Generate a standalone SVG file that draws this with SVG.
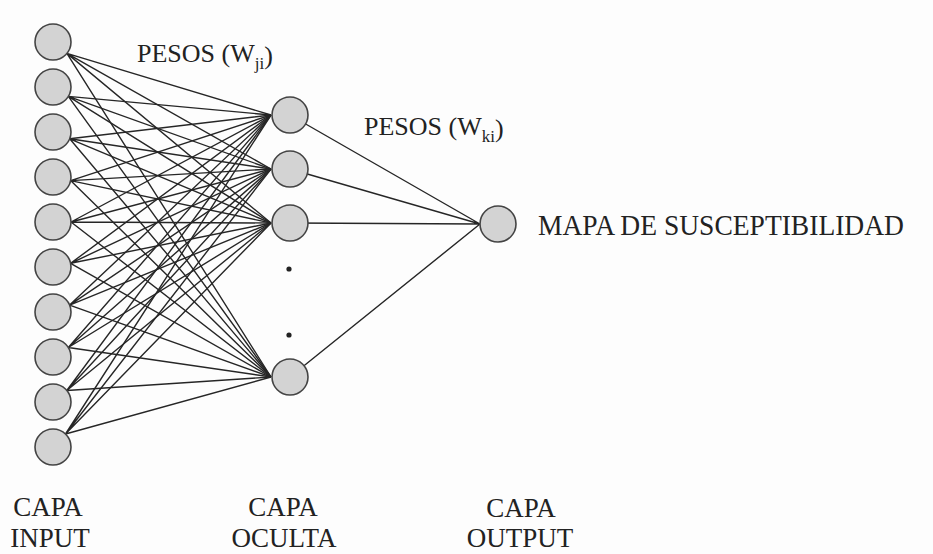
<svg xmlns="http://www.w3.org/2000/svg" width="933" height="554" viewBox="0 0 933 554">
<style>
.bg{fill:#fdfdfd}
.node{fill:#d3d3d3;stroke:#444;stroke-width:1.6}
.edge{stroke:#262626;stroke-width:1.4;fill:none}
.dot{fill:#222}
.t{font-family:"Liberation Serif","Times New Roman",serif;fill:#222}
.w{font-size:26px}
.sub{font-size:17px}
.big{font-size:29px}
.cap{font-size:27px;text-anchor:middle}
</style>
<rect class="bg" x="0" y="0" width="933" height="554"/>
<g id="connectors">
<g id="input-hidden">
<path class="edge" d="M66.9 53.4L271 115M66.9 53.4L271 169M66.9 53.4L271 223M66.9 53.4L271 377"/>
<path class="edge" d="M68.3 96.4L271 115M68.3 96.4L271 169M68.3 96.4L271 223M68.3 96.4L271 377"/>
<path class="edge" d="M69.7 138.8L271 115M69.7 138.8L271 169M69.7 138.8L271 223M69.7 138.8L271 377"/>
<path class="edge" d="M70.6 180.6L271 115M70.6 180.6L271 169M70.6 180.6L271 223M70.6 180.6L271 377"/>
<path class="edge" d="M71 222L271 115M71 222L271 169M71 222L271 223M71 222L271 377"/>
<path class="edge" d="M70.6 263.3L271 115M70.6 263.3L271 169M70.6 263.3L271 223M70.6 263.3L271 377"/>
<path class="edge" d="M69.6 305.1L271 115M69.6 305.1L271 169M69.6 305.1L271 223M69.6 305.1L271 377"/>
<path class="edge" d="M68.3 347.5L271 115M68.3 347.5L271 169M68.3 347.5L271 223M68.3 347.5L271 377"/>
<path class="edge" d="M66.8 390.5L271 115M66.8 390.5L271 169M66.8 390.5L271 223M66.8 390.5L271 377"/>
<path class="edge" d="M65.5 434L271 115M65.5 434L271 169M65.5 434L271 223M65.5 434L271 377"/>
</g>
<g id="hidden-output">
<path class="edge" d="M290 115L480 224M290 169L480 224M290 223L480 224M290 377L480 224"/>
</g>
</g>
<g id="input-layer">
<g id="in1"><circle class="node" cx="53" cy="42" r="18"/></g>
<g id="in2"><circle class="node" cx="53" cy="87" r="18"/></g>
<g id="in3"><circle class="node" cx="53" cy="132" r="18"/></g>
<g id="in4"><circle class="node" cx="53" cy="177" r="18"/></g>
<g id="in5"><circle class="node" cx="53" cy="222" r="18"/></g>
<g id="in6"><circle class="node" cx="53" cy="267" r="18"/></g>
<g id="in7"><circle class="node" cx="53" cy="312" r="18"/></g>
<g id="in8"><circle class="node" cx="53" cy="357" r="18"/></g>
<g id="in9"><circle class="node" cx="53" cy="402" r="18"/></g>
<g id="in10"><circle class="node" cx="53" cy="447" r="18"/></g>
</g>
<g id="hidden-layer">
<g id="h1"><circle class="node" cx="290" cy="115" r="18"/></g>
<g id="h2"><circle class="node" cx="290" cy="169" r="18"/></g>
<g id="h3"><circle class="node" cx="290" cy="223" r="18"/></g>
<g id="h-dots"><circle class="dot" cx="289" cy="269" r="2.6"/><circle class="dot" cx="289" cy="335" r="2.6"/></g>
<g id="h4"><circle class="node" cx="290" cy="377" r="18"/></g>
</g>
<g id="output-layer">
<g id="out"><circle class="node" cx="498" cy="224" r="18"/>
<text class="t big" x="538" y="235" textLength="366" lengthAdjust="spacingAndGlyphs">MAPA DE SUSCEPTIBILIDAD</text></g>
</g>
<g id="labels">
<text class="t w" x="137" y="62">PESOS (W<tspan class="sub" dy="7">ji</tspan><tspan dy="-5">)</tspan></text>
<text class="t w" x="364" y="135">PESOS (W<tspan class="sub" dy="7">ki</tspan><tspan dy="-5">)</tspan></text>
<text class="t cap" x="48" y="516">CAPA</text>
<text class="t cap" x="50" y="547">INPUT</text>
<text class="t cap" x="283" y="516">CAPA</text>
<text class="t cap" x="284" y="547">OCULTA</text>
<text class="t cap" x="521" y="517">CAPA</text>
<text class="t cap" x="520" y="547">OUTPUT</text>
</g>
</svg>
